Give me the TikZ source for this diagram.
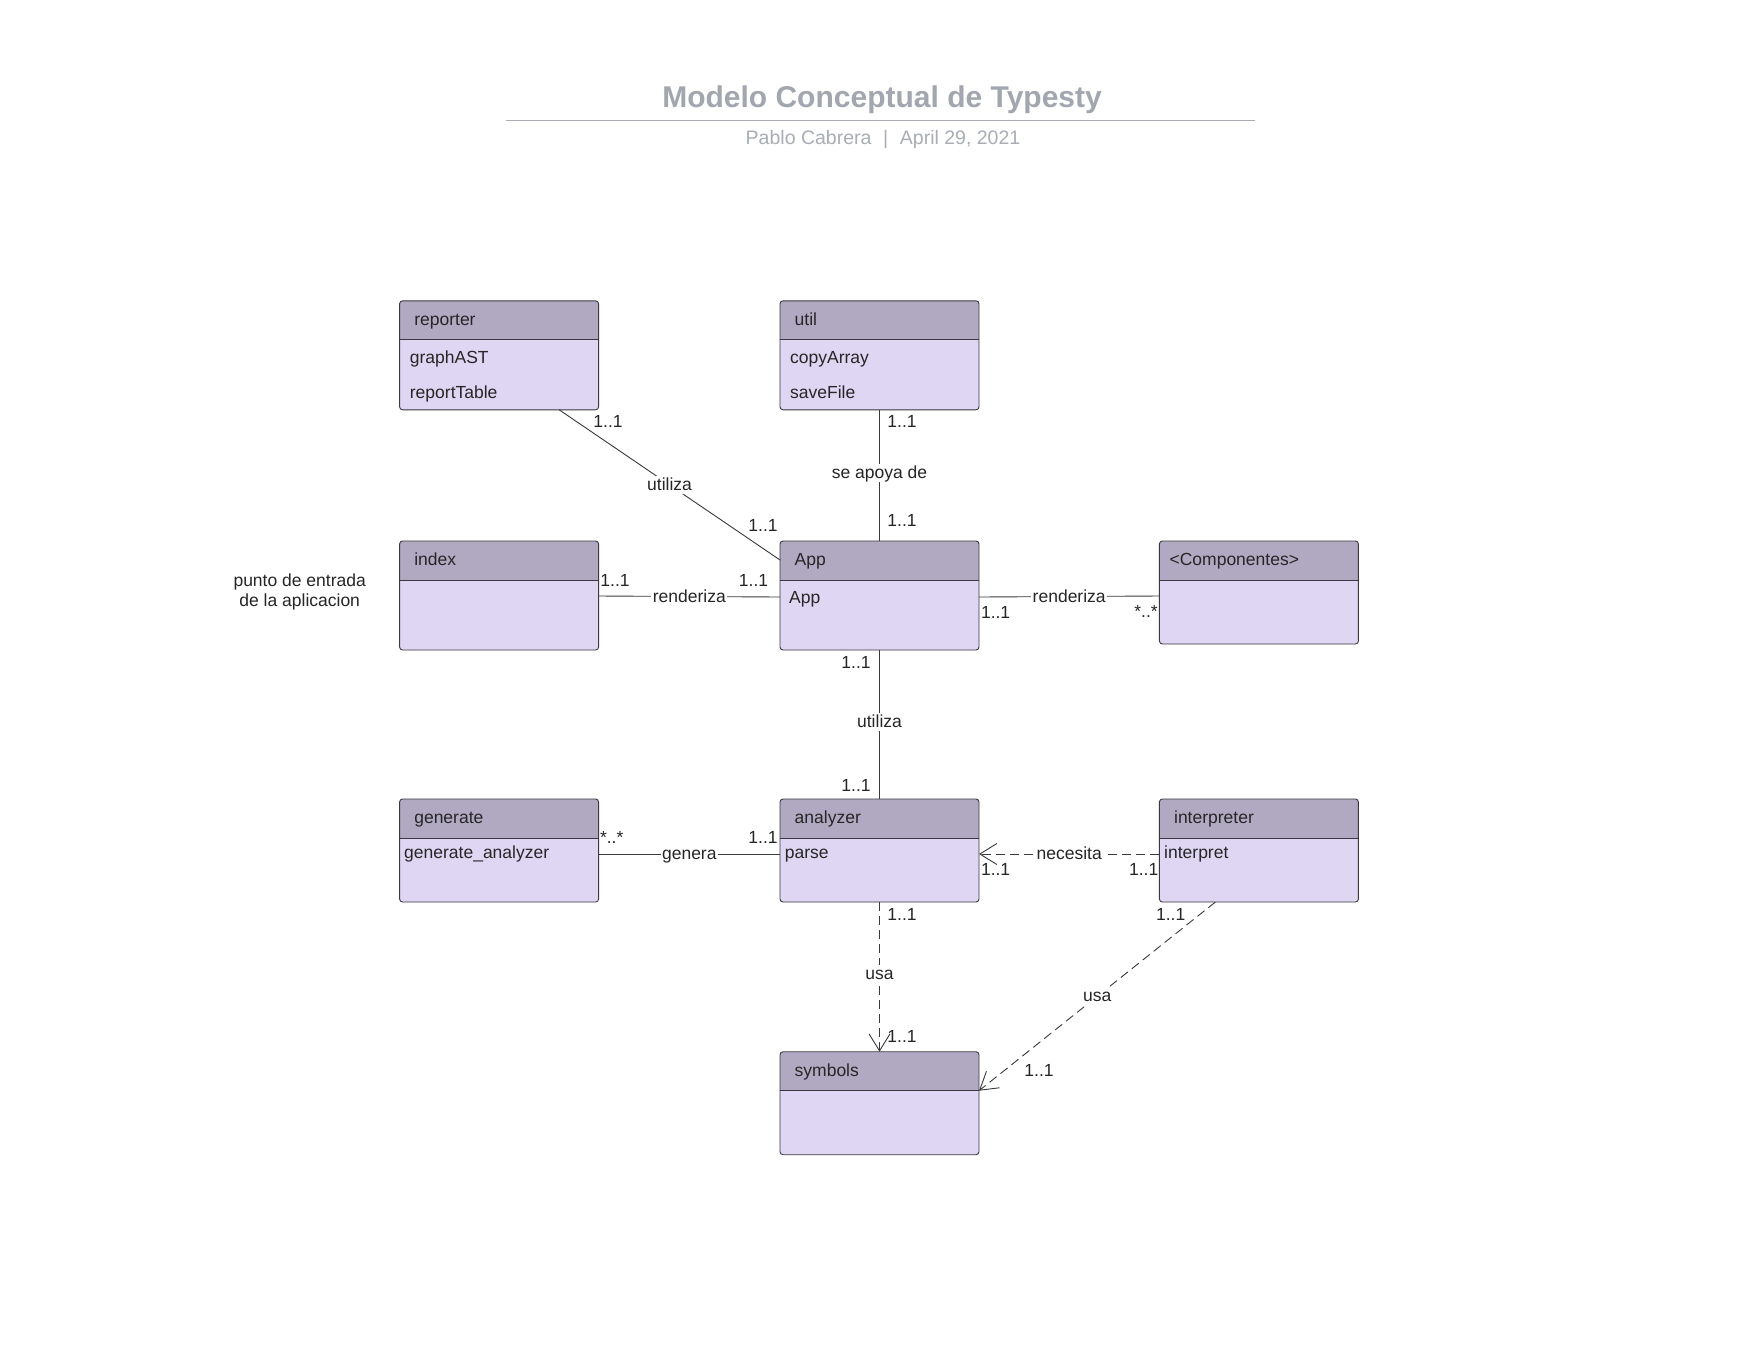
\documentclass[tikz,border=0pt]{standalone}
\usepackage{fontspec}
\setmainfont{Liberation Sans}
\usetikzlibrary{arrows.meta}
\definecolor{hdrc}{HTML}{B1A9C2}
\definecolor{bodyc}{HTML}{DFD6F3}
\definecolor{edgec}{HTML}{3A3840}
\definecolor{txtc}{HTML}{262626}
\definecolor{titlec}{HTML}{A2A6AF}
\definecolor{subc}{HTML}{A9ADB5}
\newcommand\umlbox[6]{%
  \node[boxshape, minimum width=199pt, minimum height=#4pt, anchor=north west] (#1) at (#2,#3) {};
  \begin{scope}
    \clip[rounded corners=3pt] (#1.north west) rectangle (#1.south east);
    \fill[hdrc] (#1.north west) rectangle ([yshift=-39pt]#1.north east);
  \end{scope}
  \draw[boxline] ([yshift=-39pt]#1.north west) -- ([yshift=-39pt]#1.north east);
  \draw[boxline, rounded corners=3pt] (#1.north west) rectangle (#1.south east);
  \node[txt, anchor=west] (#1-t) at ([xshift=#6pt, yshift=-18pt]#1.north west) {#5};
}
\begin{document}
\begin{tikzpicture}[x=1pt,y=-1pt,
  boxshape/.style={fill=bodyc, rounded corners=3pt, inner sep=0pt, outer sep=0pt},
  boxline/.style={draw=edgec, line width=0.9pt},
  txt/.style={font=\fontsize{17.5}{21}\selectfont, text=txtc, inner sep=0pt, text height=14.8pt, text depth=1.2pt},
  lbl/.style={txt, fill=white, inner xsep=1.5pt, inner ysep=1pt, text height=13.5pt, text depth=2.5pt},
  conn/.style={draw=edgec, line width=0.9pt},
  dep/.style={conn, dash pattern=on 9pt off 5pt, -{Straight Barb[length=17pt,width=21pt]}},
  titlestyle/.style={font=\fontsize{30}{36}\selectfont\bfseries, text=titlec, inner sep=0pt},
  substyle/.style={font=\fontsize{19.5}{23}\selectfont, text=subc, inner sep=0pt}
]
\useasboundingbox (0,0) rectangle (1760,1360);
\fill[white] (0,0) rectangle (1760,1360);

% title
\node[titlestyle] (title) at (882,100) {Modelo Conceptual de Typesty};
\coordinate (tl1) at (506,120.5);
\coordinate (tl2) at (1255,120.5);
\draw[subc, line width=1.4pt] (tl1) -- (tl2);
\node[substyle] (subtitle) at (883,139.5) {Pablo Cabrera\hspace{0.6em}|\hspace{0.6em}April 29, 2021};

% boxes
\umlbox{reporter}{399.6}{300.8}{109}{reporter}{14.5}
\umlbox{util}{780}{300.8}{109}{util}{14.5}
\umlbox{index}{399.6}{541}{109}{index}{14.5}
\umlbox{app}{780}{541}{109}{App}{14.5}
\umlbox{comp}{1159.4}{541}{103}{<Componentes>}{10}
\umlbox{generate}{399.6}{799}{103}{generate}{14.5}
\umlbox{analyzer}{780}{799}{103}{analyzer}{14.5}
\umlbox{interp}{1159.4}{799}{103}{interpreter}{14.5}
\umlbox{symbols}{780}{1051.7}{103}{symbols}{14.5}

% attributes
\node[txt, anchor=west] (graphast) at (409.7,357) {graphAST};
\node[txt, anchor=west] (reporttable) at (409.7,391.7) {reportTable};
\node[txt, anchor=west] (copyarray) at (790,357) {copyArray};
\node[txt, anchor=west] (savefile) at (790,391.7) {saveFile};
\node[txt, anchor=west] (appattr) at (789,597) {App};
\node[txt, anchor=west] (genattr) at (404,852) {generate\_analyzer};
\node[txt, anchor=west] (parse) at (784.6,852) {parse};
\node[txt, anchor=west] (interpattr) at (1164,852) {interpret};

% note
\node[txt, align=center, text height=, text depth=] (note) at (299.7,592) {punto de entrada\\[-0.5pt]de la aplicacion};

% connectors
\draw[conn] ([xshift=-39.4pt]reporter.south east) -- node[lbl, pos=0.5] (l1) {utiliza} ([yshift=-19pt]app.north west);
\draw[conn] (util.south) -- node[lbl, pos=0.48] (l2) {se apoya de} (app.north);
\draw[conn] ([yshift=1pt]index.east |- appattr) -- node[lbl] (l3) {renderiza} (app.west |- appattr);
\draw[conn] (app.east |- appattr) -- node[lbl] (l4) {renderiza} ([yshift=1pt]comp.west |- appattr);
\draw[conn] (app.south) -- node[lbl, pos=0.48] (l5) {utiliza} (analyzer.north);
\draw[conn] ([yshift=-2pt]generate.east |- parse) -- node[lbl] (l6) {genera} ([yshift=-2pt]analyzer.west |- parse);
\draw[dep] ([yshift=-2pt]interp.west |- interpattr) -- node[lbl] (l7) {necesita} ([yshift=-2pt]analyzer.east |- parse);
\draw[dep] (analyzer.south) -- node[lbl, pos=0.48] (l8) {usa} (symbols.north);
\draw[dep] ([xshift=56pt]interp.south west) -- node[lbl] (l9) {usa} ([yshift=-39pt]symbols.north east);

% multiplicities
\node[txt] (m1a) at (608,421) {1..1};
\node[txt] (m1b) at (763,525) {1..1};
\node[txt] (m2a) at (902,421) {1..1};
\node[txt] (m2b) at (902,520) {1..1};
\node[txt] (m3a) at (615,579.5) {1..1};
\node[txt] (m3b) at (753.5,580) {1..1};
\node[txt] (m4a) at (995.6,612) {1..1};
\node[txt] (m4b) at (1146,610.6) {*..*};
\node[txt] (m5a) at (856,662) {1..1};
\node[txt] (m5b) at (856,784.6) {1..1};
\node[txt] (m6a) at (611.7,837) {*..*};
\node[txt] (m6b) at (763,837) {1..1};
\node[txt] (m7a) at (995.6,868.7) {1..1};
\node[txt] (m7b) at (1143.7,868.7) {1..1};
\node[txt] (m8a) at (902,913.6) {1..1};
\node[txt] (m8b) at (902,1036) {1..1};
\node[txt] (m9a) at (1170.7,913.6) {1..1};
\node[txt] (m9b) at (1039,1069.6) {1..1};
\end{tikzpicture}
\end{document}
